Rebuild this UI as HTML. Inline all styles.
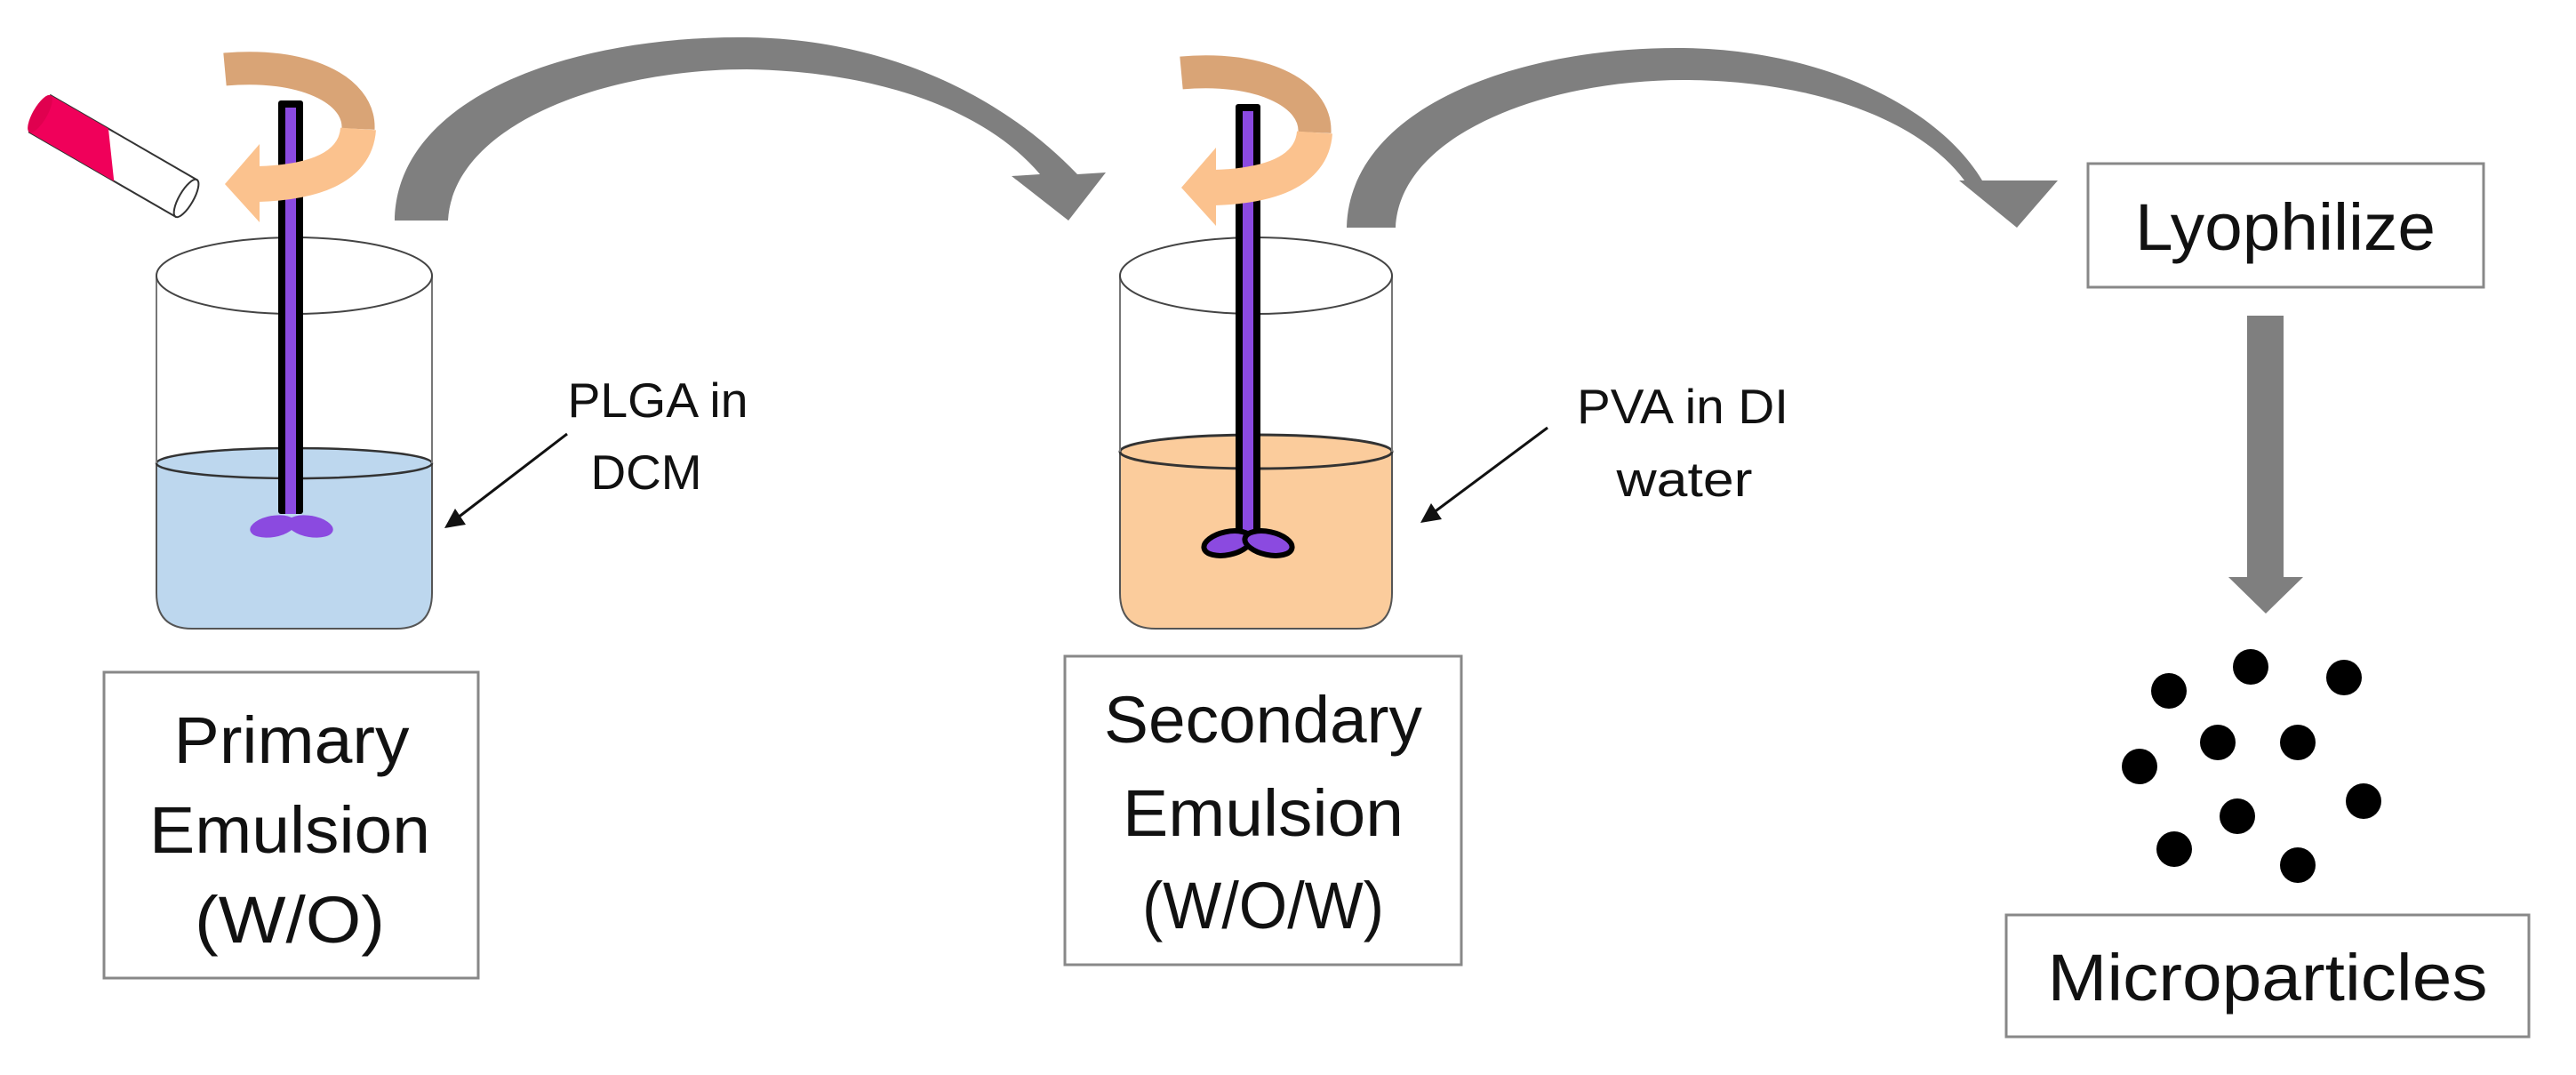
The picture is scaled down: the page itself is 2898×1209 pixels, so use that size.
<!DOCTYPE html>
<html><head><meta charset="utf-8"><style>
html,body{margin:0;padding:0;background:#fff;}
svg{display:block;}
text{font-family:"Liberation Sans",sans-serif;fill:#111;}
</style></head><body>
<svg width="2898" height="1209" viewBox="0 0 2898 1209" xmlns="http://www.w3.org/2000/svg">
<rect width="2898" height="1209" fill="#fff"/>

<!-- Gray curved arrow 1 -->
<path d="M444,248 C446,110 640,40 840,42 C1000,44 1130,110 1212,196 L1244,194 L1202,248 L1138,198 L1170,196 C1110,125 990,80 840,78 C680,78 510,140 504,248 Z" fill="#7f7f7f"/>
<!-- Gray curved arrow 2 -->
<path d="M1515,256 C1518,120 1710,52 1894,54 C2050,56 2180,120 2230,203 L2315,203 L2269,256 L2204,203 L2210,203 C2160,135 2040,90 1894,90 C1740,90 1575,150 1570,256 Z" fill="#7f7f7f"/>

<!-- Test tube -->
<g transform="translate(45,128) rotate(30)">
<rect x="0" y="-24" width="190" height="48" fill="#fff" stroke="#333" stroke-width="2"/>
<path d="M0,-24 L75,-24 L110,24 L0,24 Z" fill="#f0005a"/>
<ellipse cx="0" cy="0" rx="8" ry="24" fill="#e0004f"/>
<ellipse cx="190" cy="0" rx="8" ry="24" fill="#fff" stroke="#333" stroke-width="2"/>
</g>

<!-- Beaker 1 -->
<path d="M176,521 L176,667 Q176,707 216,707 L446,707 Q486,707 486,667 L486,521 Z" fill="#bdd7ee" stroke="#555" stroke-width="2"/>
<ellipse cx="331" cy="521" rx="155" ry="17" fill="#bdd7ee" stroke="#333" stroke-width="2.5"/>
<path d="M176,310 L176,521 M486,310 L486,521" stroke="#777" stroke-width="2" fill="none"/>
<ellipse cx="331" cy="310" rx="155" ry="43" fill="none" stroke="#444" stroke-width="2"/>
<!-- orange rotate arrow 1 back part -->
<path d="M253,78 C340,70 405,100 403,145" stroke="#d9a476" stroke-width="37" fill="none"/>
<!-- rod 1 -->
<rect x="313" y="113" width="28" height="465" fill="#000" rx="3"/>
<rect x="321" y="121" width="12" height="457" fill="#8b4ae0"/>
<path d="M403,145 C400,190 350,205 290,207" stroke="#fbc28e" stroke-width="40" fill="none"/>
<polygon points="292,162 253,207 292,250" fill="#fbc28e"/>
<ellipse cx="307" cy="592" rx="26" ry="12" fill="#8b4ae0" transform="rotate(-10 307 592)"/>
<ellipse cx="349" cy="592" rx="26" ry="12" fill="#8b4ae0" transform="rotate(10 349 592)"/>

<!-- Beaker 2 -->
<path d="M1260,508 L1260,667 Q1260,707 1300,707 L1526,707 Q1566,707 1566,667 L1566,508 Z" fill="#fbcc9c" stroke="#555" stroke-width="2"/>
<ellipse cx="1413" cy="508" rx="153" ry="19" fill="#fbcc9c" stroke="#333" stroke-width="3"/>
<path d="M1260,310 L1260,508 M1566,310 L1566,508" stroke="#777" stroke-width="2" fill="none"/>
<ellipse cx="1413" cy="310" rx="153" ry="43" fill="none" stroke="#444" stroke-width="2"/>
<path d="M1329,82 C1416,74 1481,104 1479,149" stroke="#d9a476" stroke-width="37" fill="none"/>
<rect x="1390" y="117" width="28" height="490" fill="#000" rx="3"/>
<rect x="1398" y="125" width="12" height="482" fill="#8b4ae0"/>
<path d="M1479,149 C1476,194 1426,209 1366,211" stroke="#fbc28e" stroke-width="40" fill="none"/>
<polygon points="1368,166 1329,211 1368,254" fill="#fbc28e"/>
<ellipse cx="1381" cy="611" rx="27" ry="13" fill="#8b4ae0" stroke="#000" stroke-width="6" transform="rotate(-12 1381 611)"/>
<ellipse cx="1427" cy="611" rx="27" ry="13" fill="#8b4ae0" stroke="#000" stroke-width="6" transform="rotate(12 1427 611)"/>

<!-- label arrows -->
<defs><marker id="ah" markerWidth="10" markerHeight="10" refX="9" refY="5" orient="auto" markerUnits="userSpaceOnUse"><path d="M0,0 L0,0"/></marker></defs>
<line x1="638" y1="488" x2="510" y2="586" stroke="#111" stroke-width="3"/>
<polygon points="500,594 512,572 524,590" fill="#111"/>
<line x1="1741" y1="481" x2="1608" y2="580" stroke="#111" stroke-width="3"/>
<polygon points="1598,588 1610,566 1622,584" fill="#111"/>

<text x="740" y="469" font-size="55" text-anchor="middle" textLength="203" lengthAdjust="spacingAndGlyphs">PLGA in</text>
<text x="727" y="550" font-size="55" text-anchor="middle" textLength="125" lengthAdjust="spacingAndGlyphs">DCM</text>
<text x="1893" y="476" font-size="55" text-anchor="middle" textLength="238" lengthAdjust="spacingAndGlyphs">PVA in DI</text>
<text x="1895" y="558" font-size="55" text-anchor="middle" textLength="153" lengthAdjust="spacingAndGlyphs">water</text>

<!-- Box 1 -->
<rect x="117" y="756" width="421" height="344" fill="#fff" stroke="#888" stroke-width="3"/>
<text x="328" y="858" font-size="74" text-anchor="middle" textLength="265" lengthAdjust="spacingAndGlyphs">Primary</text>
<text x="326" y="959" font-size="74" text-anchor="middle" textLength="316" lengthAdjust="spacingAndGlyphs">Emulsion</text>
<text x="326" y="1060" font-size="74" text-anchor="middle" textLength="214" lengthAdjust="spacingAndGlyphs">(W/O)</text>

<!-- Box 2 -->
<rect x="1198" y="738" width="446" height="347" fill="#fff" stroke="#888" stroke-width="3"/>
<text x="1421" y="835" font-size="74" text-anchor="middle" textLength="358" lengthAdjust="spacingAndGlyphs">Secondary</text>
<text x="1421" y="940" font-size="74" text-anchor="middle" textLength="316" lengthAdjust="spacingAndGlyphs">Emulsion</text>
<text x="1421" y="1044" font-size="74" text-anchor="middle" textLength="272" lengthAdjust="spacingAndGlyphs">(W/O/W)</text>

<!-- Lyophilize -->
<rect x="2349" y="184" width="445" height="139" fill="#fff" stroke="#888" stroke-width="3"/>
<text x="2571" y="281" font-size="74" text-anchor="middle" textLength="338" lengthAdjust="spacingAndGlyphs">Lyophilize</text>

<!-- down arrow -->
<rect x="2528" y="355" width="41" height="298" fill="#7f7f7f"/>
<polygon points="2507,649 2591,649 2549,690" fill="#7f7f7f"/>

<!-- dots -->
<g fill="#000">
<ellipse cx="2532" cy="750" rx="20" ry="20"/>
<ellipse cx="2637" cy="762" rx="20" ry="20"/>
<ellipse cx="2440" cy="777" rx="20" ry="20"/>
<ellipse cx="2495" cy="835" rx="20" ry="20"/>
<ellipse cx="2585" cy="835" rx="20" ry="20"/>
<ellipse cx="2407" cy="862" rx="20" ry="20"/>
<ellipse cx="2659" cy="901" rx="20" ry="20"/>
<ellipse cx="2517" cy="918" rx="20" ry="20"/>
<ellipse cx="2446" cy="955" rx="20" ry="20"/>
<ellipse cx="2585" cy="973" rx="20" ry="20"/>
</g>

<!-- Microparticles -->
<rect x="2257" y="1029" width="588" height="137" fill="#fff" stroke="#888" stroke-width="3"/>
<text x="2551" y="1125" font-size="74" text-anchor="middle" textLength="495" lengthAdjust="spacingAndGlyphs">Microparticles</text>
</svg>
</body></html>
